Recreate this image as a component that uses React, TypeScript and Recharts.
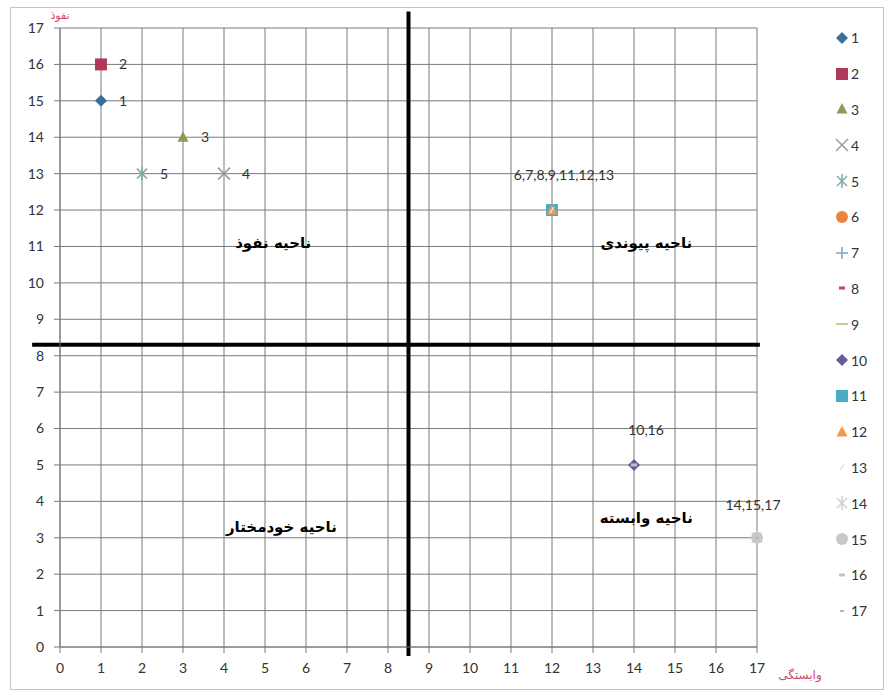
import React from 'react';
import {
  ScatterChart,
  Scatter,
  XAxis,
  YAxis,
  CartesianGrid,
  ReferenceLine,
  ReferenceDot,
  Legend,
} from 'recharts';

// one point per variable (MICMAC map)
const seriesNames = ['1', '2', '3', '4', '5', '6', '7', '8', '9', '10', '11', '12', '13', '14', '15', '16', '17'];
const dependence = [1, 1, 3, 4, 2, 12, 12, 12, 12, 14, 12, 12, 12, 17, 17, 14, 17];
const influence = [15, 16, 14, 13, 13, 12, 12, 12, 12, 5, 12, 12, 12, 3, 3, 5, 3];
const pointLabels = ['1', '2', '3', '4', '5', '6,7,8,9,11,12,13', '', '', '', '10,16', '', '', '', '14,15,17', '', '', ''];

const axisTicks = [0, 1, 2, 3, 4, 5, 6, 7, 8, 9, 10, 11, 12, 13, 14, 15, 16, 17];

const regionNames = ['ناحیه نفوذ', 'ناحیه پیوندی', 'ناحیه خودمختار', 'ناحیه وابسته'];
const regionX = [5.2, 14.3, 5.4, 14.3];
const regionY = [11.1, 11.1, 3.3, 3.55];

const splitX = 8.5;
const splitY = 8.3;

const colors = [
  '#3b6f97', '#b0395a', '#8c9a55', '#9a9a9a', '#7fa9aa', '#e8843c', '#7aa3d0', '#c8404a', '#c9c98f',
  '#6b5b9c', '#4bacc6', '#f79646', '#e4e4e4', '#cfcfcf', '#c9c9c9', '#c2c2c2', '#b5b5b5',
];
const markers = [
  'diamond', 'square', 'triangle', 'x', 'star', 'circle', 'plus', 'dash', 'longdash',
  'diamond', 'square', 'triangle', 'tick', 'star', 'circle', 'dash', 'shortdash',
];

// where each point label sits relative to its marker
const labelPlacement: Record<string, { dx: number; dy: number; anchor: string }> = {
  right: { dx: 18, dy: 5, anchor: 'start' },
  top: { dx: 12, dy: -30, anchor: 'middle' },
  topLeft: { dx: -4, dy: -28, anchor: 'middle' },
};
const labelSide = ['right', 'right', 'right', 'right', 'right', 'top', '', '', '', 'top', '', '', '', 'topLeft', '', '', ''];

const Marker = ({ kind, cx, cy, color }: { kind: string; cx: number; cy: number; color: string }) => {
  switch (kind) {
    case 'diamond':
      return <polygon points={`${cx},${cy - 6} ${cx + 6},${cy} ${cx},${cy + 6} ${cx - 6},${cy}`} fill={color} />;
    case 'square':
      return <rect x={cx - 6} y={cy - 6} width={12} height={12} fill={color} />;
    case 'triangle':
      return <polygon points={`${cx},${cy - 6} ${cx + 5.5},${cy + 4.5} ${cx - 5.5},${cy + 4.5}`} fill={color} />;
    case 'x':
      return (
        <g stroke={color} strokeWidth={1.5}>
          <line x1={cx - 6} y1={cy - 6} x2={cx + 6} y2={cy + 6} />
          <line x1={cx - 6} y1={cy + 6} x2={cx + 6} y2={cy - 6} />
        </g>
      );
    case 'star':
      return (
        <g stroke={color} strokeWidth={1.5}>
          <line x1={cx - 5} y1={cy - 5} x2={cx + 5} y2={cy + 5} />
          <line x1={cx - 5} y1={cy + 5} x2={cx + 5} y2={cy - 5} />
          <line x1={cx} y1={cy - 7} x2={cx} y2={cy + 7} />
        </g>
      );
    case 'circle':
      return <circle cx={cx} cy={cy} r={6} fill={color} />;
    case 'plus':
      return (
        <g stroke={color} strokeWidth={1.5}>
          <line x1={cx - 6} y1={cy} x2={cx + 6} y2={cy} />
          <line x1={cx} y1={cy - 6} x2={cx} y2={cy + 6} />
        </g>
      );
    case 'tick':
      return <line x1={cx - 2} y1={cy + 3} x2={cx + 2} y2={cy - 3} stroke={color} strokeWidth={1.5} />;
    case 'dash':
      return <line x1={cx - 3} y1={cy} x2={cx + 3} y2={cy} stroke={color} strokeWidth={3} />;
    case 'longdash':
      return <line x1={cx - 6} y1={cy} x2={cx + 6} y2={cy} stroke={color} strokeWidth={2} />;
    case 'shortdash':
      return <line x1={cx - 2} y1={cy} x2={cx + 2} y2={cy} stroke={color} strokeWidth={2} />;
    default:
      return null;
  }
};

const LegendBox = ({ payload }: { payload?: Array<{ value: string }> }) => {
  const items = [...(payload ?? [])].sort(
    (a, b) => seriesNames.indexOf(String(a.value)) - seriesNames.indexOf(String(b.value))
  );
  return (
    <div style={{ fontFamily: 'Lato', fontSize: 14, color: '#333' }}>
      {items.map((p) => {
        const i = seriesNames.indexOf(String(p.value));
        return (
          <div key={p.value} style={{ height: 35.8, display: 'flex', alignItems: 'center' }}>
            <svg width={16} height={16}>
              <Marker kind={markers[i]} cx={8} cy={8} color={colors[i]} />
            </svg>
            <span style={{ marginLeft: 1 }}>{p.value}</span>
          </div>
        );
      })}
    </div>
  );
};

export default function App() {
  return (
    <div style={{ position: 'absolute', left: 0, top: 0, width: 885, height: 695, background: '#fff' }}>
      <div
        style={{
          position: 'absolute',
          left: 10,
          top: 7,
          width: 874,
          height: 683,
          border: '1px solid #c4c4c4',
          boxSizing: 'border-box',
        }}
      />
      <ScatterChart
        width={885}
        height={695}
        margin={{ top: 28, right: 128, left: 0, bottom: 0 }}
        style={{ position: 'absolute', left: 0, top: 0, fontFamily: 'Lato' }}
      >
        <CartesianGrid stroke="#7a7a7a" strokeWidth={1} />
        <XAxis
          type="number"
          dataKey="x"
          domain={[0, 17]}
          ticks={axisTicks}
          interval={0}
          height={48}
          tickSize={6}
          tickMargin={10}
          stroke="#7a7a7a"
          tick={{ fill: '#333', fontSize: 14 }}
          label={{
            content: (p: any) => (
              <text
                x={p.viewBox.x + p.viewBox.width + 43}
                y={p.viewBox.y + 32}
                textAnchor="middle"
                fill="#d4486a"
                fontSize={12}
                fontFamily="DejaVu Sans"
              >
                وابستگی
              </text>
            ),
          }}
        />
        <YAxis
          type="number"
          dataKey="y"
          domain={[0, 17]}
          ticks={axisTicks}
          interval={0}
          width={60}
          tickSize={6}
          tickMargin={10}
          stroke="#7a7a7a"
          tick={{ fill: '#333', fontSize: 14 }}
          label={{
            content: (p: any) => (
              <text
                x={p.viewBox.x + p.viewBox.width}
                y={p.viewBox.y - 9}
                textAnchor="middle"
                fill="#d4486a"
                fontSize={11}
                fontFamily="DejaVu Sans"
              >
                نفوذ
              </text>
            ),
          }}
        />
        <ReferenceLine
          segment={[{ x: splitX, y: -0.25 }, { x: splitX, y: 17.45 }]}
          stroke="#000"
          strokeWidth={4}
          ifOverflow="visible"
        />
        <ReferenceLine
          segment={[{ x: -0.68, y: splitY }, { x: 17.07, y: splitY }]}
          stroke="#000"
          strokeWidth={4}
          ifOverflow="visible"
        />
        {regionNames.map((name, i) => (
          <ReferenceDot
            key={name}
            x={regionX[i]}
            y={regionY[i]}
            r={0}
            fill="none"
            stroke="none"
            label={{
              value: name,
              position: 'center',
              fill: '#000',
              fontSize: 15,
              fontWeight: 'bold',
              fontFamily: 'DejaVu Sans',
            }}
          />
        ))}
        {seriesNames.map((name, i) => (
          <Scatter
            key={name}
            name={name}
            data={[{ x: dependence[i], y: influence[i] }]}
            fill={colors[i]}
            isAnimationActive={false}
            shape={(props: any) => {
              const side = labelPlacement[labelSide[i]];
              return (
                <g>
                  <Marker kind={markers[i]} cx={props.cx} cy={props.cy} color={colors[i]} />
                  {side && pointLabels[i] && (
                    <text
                      x={props.cx + side.dx}
                      y={props.cy + side.dy}
                      textAnchor={side.anchor as any}
                      fill="#333"
                      fontSize={14}
                      fontFamily="Lato"
                    >
                      {pointLabels[i]}
                    </text>
                  )}
                </g>
              );
            }}
          />
        ))}
        <Legend
          layout="vertical"
          align="center"
          verticalAlign="middle"
          wrapperStyle={{ left: 834, top: 20, width: 50 }}
          content={(p: any) => <LegendBox payload={p.payload} />}
        />
      </ScatterChart>
    </div>
  );
}
